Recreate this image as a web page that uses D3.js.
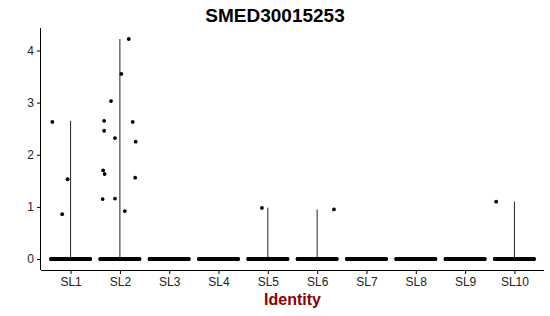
<!DOCTYPE html>
<html>
<head>
    <title>SMED30015253</title>
    <script src="https://d3js.org/d3.v7.min.js"></script>
    <style>
        body { margin: 0; background: #fff; }
        text { font-family: "Liberation Sans", Arial, sans-serif; }
    </style>
</head>
<body>
    <svg width="550" height="316"></svg>
    <script>
        // categories
        const identities = ["SL1", "SL2", "SL3", "SL4", "SL5", "SL6", "SL7", "SL8", "SL9", "SL10"];
        // max expression per identity (violin height)
        const maxExpr = [2.65, 4.22, 0, 0, 0.985, 0.95, 0, 0, 0, 1.10];
        // non-zero cells: identity, value, jitter offset (fraction of band)
        const cellIdent = ["SL1", "SL1", "SL1",
                           "SL2", "SL2", "SL2", "SL2", "SL2", "SL2", "SL2", "SL2", "SL2", "SL2", "SL2", "SL2", "SL2", "SL2",
                           "SL5", "SL6", "SL10"];
        const cellValue = [2.63, 0.86, 1.53,
                           4.22, 3.55, 3.03, 2.65, 2.63, 2.46, 2.32, 2.25, 1.70, 1.63, 1.56, 1.15, 1.16, 0.92,
                           0.98, 0.95, 1.10];
        const cellJitter = [-0.37, -0.17, -0.06,
                            0.18, 0.03, -0.18, -0.32, 0.26, -0.32, -0.10, 0.32, -0.34, -0.31, 0.31, -0.35, -0.10, 0.10,
                            -0.12, 0.34, -0.37];
        // cells at zero per identity (drawn as a dense jittered row)
        const zeroCount = [90, 90, 90, 90, 90, 90, 90, 90, 90, 90];
        const yTicks = [0, 1, 2, 3, 4];

        const svg = d3.select("svg"),
              width = +svg.attr("width"),
              height = +svg.attr("height"),
              margin = {top: 28, right: 6, bottom: 46, left: 41};

        const x = d3.scalePoint()
                    .domain(identities)
                    .range([margin.left + 0.6 * 49.3, width - margin.right - 0.6 * 49.3]);
        const step = x.step();
        const yMax = d3.max(maxExpr);
        const y = d3.scaleLinear()
                    .domain([-0.05 * yMax, yMax * 1.05])
                    .range([height - margin.bottom, margin.top]);

        // violins (essentially flat -> thin vertical lines)
        svg.append("g")
           .selectAll("line")
           .data(identities.filter((d, i) => maxExpr[i] > 0))
           .enter().append("line")
           .attr("x1", d => x(d))
           .attr("x2", d => x(d))
           .attr("y1", y(0))
           .attr("y2", d => y(maxExpr[identities.indexOf(d)]))
           .attr("stroke", "#222")
           .attr("stroke-width", 1);

        // zero points
        const zeros = [];
        identities.forEach((id, i) => {
            const n = zeroCount[i];
            for (let k = 0; k < n; k++) zeros.push({id: id, j: -0.4 + 0.8 * k / (n - 1)});
        });
        svg.append("g")
           .selectAll("circle")
           .data(zeros)
           .enter().append("circle")
           .attr("cx", d => x(d.id) + d.j * step)
           .attr("cy", y(0))
           .attr("r", 1.9)
           .attr("fill", "#000");

        // non-zero points
        svg.append("g")
           .selectAll("circle")
           .data(cellValue)
           .enter().append("circle")
           .attr("cx", (d, i) => x(cellIdent[i]) + cellJitter[i] * step)
           .attr("cy", d => y(d))
           .attr("r", 1.9)
           .attr("fill", "#000");

        // axes
        const xAxis = svg.append("g")
           .attr("transform", `translate(0,${height - margin.bottom})`)
           .call(d3.axisBottom(x).tickSize(4).tickPadding(3));
        xAxis.select(".domain").attr("d", `M${margin.left},0.5H${width - margin.right}`);
        const yAxis = svg.append("g")
           .attr("transform", `translate(${margin.left},0)`)
           .call(d3.axisLeft(y).tickValues(yTicks).tickFormat(d3.format("d")).tickSize(4).tickPadding(3));
        yAxis.select(".domain").attr("d", `M-0.5,${margin.top}V${height - margin.bottom}`);
        svg.selectAll(".tick text")
           .style("font-size", "12px")
           .style("font-family", "Liberation Sans, Arial, sans-serif")
           .attr("fill", "#222");

        // title and axis label
        svg.append("text")
           .attr("x", 275)
           .attr("y", 22)
           .attr("text-anchor", "middle")
           .style("font-size", "19px")
           .style("font-weight", "bold")
           .text("SMED30015253");
        svg.append("text")
           .attr("x", (margin.left + width - margin.right) / 2)
           .attr("y", 305)
           .attr("text-anchor", "middle")
           .style("font-size", "16px")
           .style("font-weight", "bold")
           .attr("fill", "#8B0000")
           .text("Identity");
    </script>
</body>
</html>
